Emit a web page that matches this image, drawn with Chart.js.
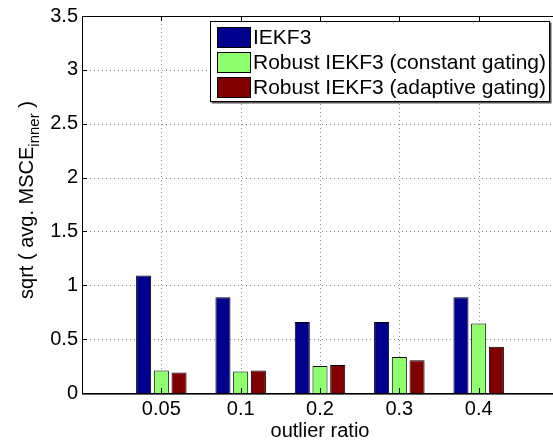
<!DOCTYPE html>
<html>
<head>
<meta charset="utf-8">
<script src="https://cdn.jsdelivr.net/npm/chart.js@4/dist/chart.umd.min.js"></script>
<style>
html,body{margin:0;padding:0;overflow:hidden;background:#fff;width:553px;height:444px;}
#wrap{width:553px;height:444px;overflow:hidden;position:relative;}
#c{position:absolute;left:0;top:0;}
</style>
</head>
<body>
<div id="wrap"><canvas id="c" width="600" height="444"></canvas></div>
<script>
// ---- data ----
const categories = ['0.05', '0.1', '0.2', '0.3', '0.4'];
const seriesNames = ['IEKF3', 'Robust IEKF3 (constant gating)', 'Robust IEKF3 (adaptive gating)'];
const iekf3 = [1.09, 0.89, 0.66, 0.66, 0.89];
const robustConstant = [0.21, 0.20, 0.25, 0.335, 0.645];
const robustAdaptive = [0.19, 0.21, 0.26, 0.305, 0.43];
const yTicks = [0, 0.5, 1, 1.5, 2, 2.5, 3, 3.5];
const xTitle = 'outlier ratio';
const yTitleMain = 'sqrt ( avg. MSCE';
const yTitleSub = 'inner';
const yTitleEnd = ' )';

const colors = ['#00008F', '#8FFF70', '#800000'];
const FONT = '"Liberation Sans", Arial, Helvetica, sans-serif';

const toPts = arr => arr.map((v, i) => ({x: i + 1, y: v}));

const decor = {
  id: 'decor',
  beforeDatasetsDraw(chart) {
    const ctx = chart.ctx;
    const a = chart.chartArea;
    const xs = chart.scales.x, ys = chart.scales.y;
    ctx.save();
    ctx.strokeStyle = '#8a8a8a';
    ctx.lineWidth = 1;
    ctx.setLineDash([1, 3]);
    ctx.beginPath();
    yTicks.forEach(v => {
      const y = Math.round(ys.getPixelForValue(v)) + 0.5;
      ctx.moveTo(a.left, y); ctx.lineTo(a.right, y);
    });
    categories.forEach((c, i) => {
      const x = Math.round(xs.getPixelForValue(i + 1)) + 0.5;
      ctx.moveTo(x, a.top); ctx.lineTo(x, a.bottom);
    });
    ctx.stroke();
    ctx.restore();
  },
  afterDraw(chart) {
    const ctx = chart.ctx;
    const a = chart.chartArea;
    const xs = chart.scales.x, ys = chart.scales.y;
    ctx.save();
    ctx.strokeStyle = '#000';
    ctx.lineWidth = 1;
    ctx.beginPath();
    ctx.moveTo(a.left + 0.5, a.top); ctx.lineTo(a.left + 0.5, a.bottom + 1);
    ctx.moveTo(a.left, a.bottom + 0.5); ctx.lineTo(a.right, a.bottom + 0.5);
    ctx.moveTo(a.left, a.top + 0.5); ctx.lineTo(a.right, a.top + 0.5);
    ctx.moveTo(a.right - 0.5, a.top); ctx.lineTo(a.right - 0.5, a.bottom);
    yTicks.forEach(v => {
      const y = Math.round(ys.getPixelForValue(v)) + 0.5;
      ctx.moveTo(a.left, y); ctx.lineTo(a.left + 5, y);
    });
    categories.forEach((c, i) => {
      const x = Math.round(xs.getPixelForValue(i + 1)) + 0.5;
      ctx.moveTo(x, a.bottom); ctx.lineTo(x, a.bottom - 5);
      ctx.moveTo(x, a.top); ctx.lineTo(x, a.top + 5);
    });
    ctx.stroke();
    ctx.beginPath();
    ctx.moveTo(a.left, a.bottom + 1.5); ctx.lineTo(a.right, a.bottom + 1.5);
    ctx.strokeStyle = 'rgba(0,0,0,0.6)';
    ctx.stroke();

    // x title
    ctx.fillStyle = '#000';
    ctx.font = '20px ' + FONT;
    ctx.textAlign = 'center';
    ctx.textBaseline = 'alphabetic';
    ctx.fillText(xTitle, (a.left + a.right) / 2, 437);

    // y title with subscript (rotated)
    ctx.save();
    const cy = 200, bx = 33;
    ctx.translate(bx, cy);
    ctx.rotate(-Math.PI / 2);
    ctx.textAlign = 'left';
    ctx.font = '20px ' + FONT;
    const w1 = ctx.measureText(yTitleMain).width;
    const w3 = ctx.measureText(yTitleEnd).width;
    ctx.font = '15px ' + FONT;
    const w2 = ctx.measureText(yTitleSub).width;
    const total = w1 + w2 + w3;
    let sx = -total / 2;
    ctx.font = '20px ' + FONT;
    ctx.fillText(yTitleMain, sx, 0);
    sx += w1;
    ctx.font = '15px ' + FONT;
    ctx.fillText(yTitleSub, sx, 6);
    sx += w2;
    ctx.font = '20px ' + FONT;
    ctx.fillText(yTitleEnd, sx, 0);
    ctx.restore();

    // legend
    const lx = 210.5, ly = 21.5, lw = 339, lh = 80;
    ctx.fillStyle = '#555';
    ctx.fillRect(lx + 1, ly + 1, lw + 1, lh + 1);
    ctx.fillStyle = '#fff';
    ctx.fillRect(lx, ly, lw, lh);
    ctx.strokeStyle = '#000';
    ctx.lineWidth = 1;
    ctx.strokeRect(lx, ly, lw, lh);
    ctx.font = '21px ' + FONT;
    ctx.textAlign = 'left';
    ctx.textBaseline = 'alphabetic';
    chart.data.datasets.forEach((ds, i) => {
      const top = 27 + i * 25;
      ctx.fillStyle = ds.backgroundColor;
      ctx.fillRect(217.5, top + 0.5, 33, 20);
      ctx.strokeStyle = '#000';
      ctx.strokeRect(217.5, top + 0.5, 33, 20);
      ctx.fillStyle = '#000';
      ctx.fillText(ds.label, 253, top + 17);
    });
    ctx.restore();
  }
};

new Chart(document.getElementById('c'), {
  type: 'bar',
  data: {
    datasets: [
      {label: seriesNames[0], data: toPts(iekf3), backgroundColor: colors[0]},
      {label: seriesNames[1], data: toPts(robustConstant), backgroundColor: colors[1]},
      {label: seriesNames[2], data: toPts(robustAdaptive), backgroundColor: colors[2]}
    ].map(d => Object.assign(d, {borderColor: '#000', borderWidth: 1, borderSkipped: 'start',
      categoryPercentage: 0.67, barPercentage: 0.85}))
  },
  options: {
    responsive: false,
    animation: false,
    devicePixelRatio: 1,
    layout: {padding: {left: 0, right: 42, top: 16, bottom: 0}},
    plugins: {legend: {display: false}, tooltip: {enabled: false}},
    scales: {
      x: {
        type: 'linear',
        offset: false,
        min: 0, max: 6,
        afterBuildTicks: s => { s.ticks = categories.map((c, i) => ({value: i + 1})); },
        afterFit: s => { s.height = 51; },
        ticks: {
          autoSkip: false,
          maxRotation: 0,
          padding: 4,
          color: '#000',
          font: {family: FONT, size: 20},
          callback: v => categories[v - 1] || ''
        },
        grid: {display: false, drawTicks: false},
        border: {display: false}
      },
      y: {
        min: 0, max: 3.5,
        afterBuildTicks: s => { s.ticks = yTicks.map(v => ({value: v})); },
        afterFit: s => { s.width = 82; },
        ticks: {
          padding: 4,
          color: '#000',
          font: {family: FONT, size: 20},
          callback: v => String(v)
        },
        grid: {display: false, drawTicks: false},
        border: {display: false}
      }
    }
  },
  plugins: [decor]
});
</script>
</body>
</html>
